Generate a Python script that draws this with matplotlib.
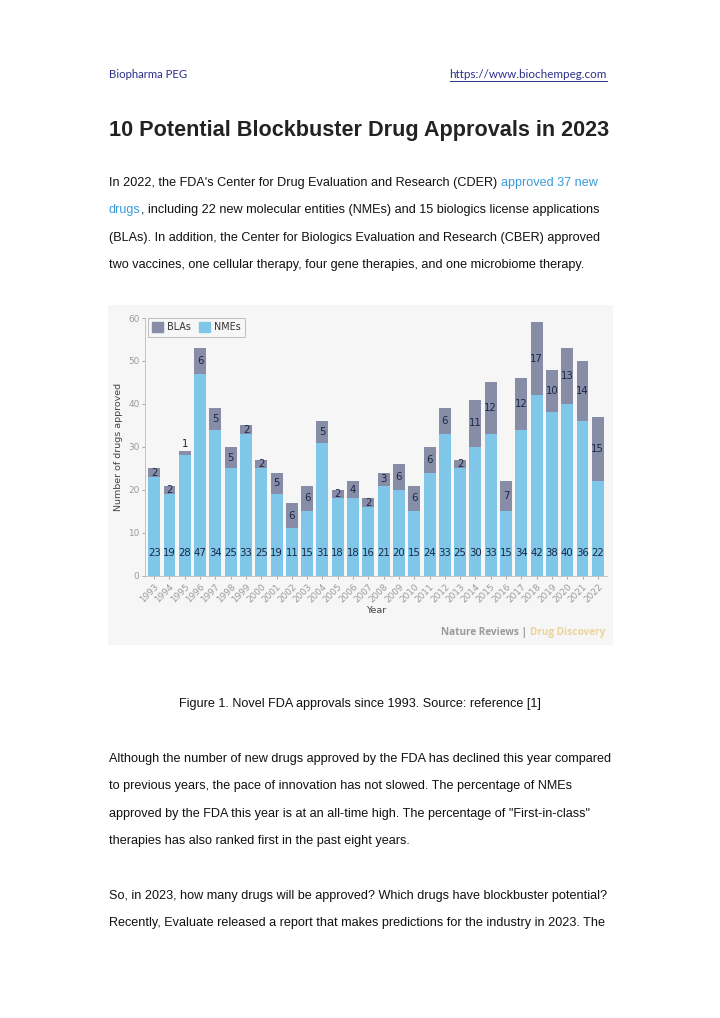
import matplotlib
matplotlib.use("Agg")
import matplotlib.pyplot as plt
from matplotlib.patches import Rectangle, Patch
import numpy as np

# ---- chart data (Nature Reviews Drug Discovery, novel FDA approvals) ----
years = ["1993", "1994", "1995", "1996", "1997", "1998", "1999", "2000", "2001", "2002",
         "2003", "2004", "2005", "2006", "2007", "2008", "2009", "2010", "2011", "2012",
         "2013", "2014", "2015", "2016", "2017", "2018", "2019", "2020", "2021", "2022"]
nmes = [23, 19, 28, 47, 34, 25, 33, 25, 19, 11, 15, 31, 18, 18, 16,
        21, 20, 15, 24, 33, 25, 30, 33, 15, 34, 42, 38, 40, 36, 22]
blas = [2, 2, 1, 6, 5, 5, 2, 2, 5, 6, 6, 5, 2, 4, 2,
        3, 6, 6, 6, 6, 2, 11, 12, 7, 12, 17, 10, 13, 14, 15]
y_ticks = [0, 10, 20, 30, 40, 50, 60]

# ---- page text ----
header_left = "Biopharma PEG"
header_right = "https://www.biochempeg.com"
title = "10 Potential Blockbuster Drug Approvals in 2023"
para1 = [
    [("In 2022, the FDA's Center for Drug Evaluation and Research (CDER) ", "k"), ("approved 37 new", "link")],
    [("drugs", "link"), (", including 22 new molecular entities (NMEs) and 15 biologics license applications", "k")],
    [("(BLAs). In addition, the Center for Biologics Evaluation and Research (CBER) approved", "k")],
    [("two vaccines, one cellular therapy, four gene therapies, and one microbiome therapy.", "k")],
]
caption = "Figure 1. Novel FDA approvals since 1993. Source: reference [1]"
para2 = [
    "Although the number of new drugs approved by the FDA has declined this year compared",
    "to previous years, the pace of innovation has not slowed. The percentage of NMEs",
    "approved by the FDA this year is at an all-time high. The percentage of \"First-in-class\"",
    "therapies has also ranked first in the past eight years.",
]
para3 = [
    "So, in 2023, how many drugs will be approved? Which drugs have blockbuster potential?",
    "Recently, Evaluate released a report that makes predictions for the industry in 2023. The",
]

W, H = 720, 1018
TXT = "#111111"
LINK = "#3a9ad9"
NME_C = "#7fc6e8"
BLA_C = "#878ca7"
LBL_C = "#1a2844"

fig = plt.figure(figsize=(W / 100, H / 100), dpi=100)
fig.patch.set_facecolor("white")
renderer = fig.canvas.get_renderer()


def fx(px):
    return px / W


def fy(py):
    return 1 - py / H


def draw_runs(runs, x, y, ha="left", **kw):
    texts = [fig.text(0, fy(y), s, color=c, va="baseline", **kw) for s, c in runs]
    widths = [t.get_window_extent(renderer).width for t in texts]
    total = sum(widths)
    x0 = {"left": x, "right": x - total, "center": x - total / 2}[ha]
    for t, w in zip(texts, widths):
        t.set_x(fx(x0))
        x0 += w
    return texts


body = dict(family="Liberation Sans", fontsize=9.1)

# header
fig.text(fx(109), fy(78), header_left, color="#2d2f8a", family="Lato", fontsize=8.2, va="baseline")
url = fig.text(fx(607), fy(78), header_right, color="#2d2f8a", family="Lato", fontsize=8.4,
               va="baseline", ha="right")
bb = url.get_window_extent(renderer)
fig.add_artist(plt.Line2D([bb.x0 / W, bb.x1 / W], [fy(80.5), fy(80.5)], color="#2d2f8a", lw=0.7))

# title
fig.text(fx(109), fy(136), title, color="#222222", family="Liberation Sans", fontsize=15.6,
         fontweight="bold", va="baseline")

# paragraph 1
for i, line in enumerate(para1):
    runs = [(s, LINK if c == "link" else TXT) for s, c in line]
    draw_runs(runs, 109, 186 + i * 27.4, **body)

# chart panel
fig.add_artist(Rectangle((fx(108), fy(645)), (613 - 108) / W, (645 - 305) / H,
                         transform=fig.transFigure, fc="#f6f6f6", ec="none", zorder=0))

ax = fig.add_axes([fx(145), fy(575.7), 462 / W, 257.7 / H])
ax.set_facecolor("none")
x = np.arange(len(years))
ax.bar(x, nmes, width=0.78, color=NME_C, edgecolor="none", zorder=2)
ax.bar(x, blas, width=0.78, bottom=nmes, color=BLA_C, edgecolor="none", zorder=2)

for i, (n, b) in enumerate(zip(nmes, blas)):
    ax.text(i, 5.3, str(n), ha="center", va="center", fontsize=7.3, color=LBL_C)
    if b >= 2:
        ax.text(i, n + b / 2, str(b), ha="center", va="center", fontsize=7.3, color=LBL_C)
    else:
        ax.text(i, n + b + 0.4, str(b), ha="center", va="bottom", fontsize=7.3, color="#222222")

ax.set_xlim(-0.6, len(years) - 0.4)
ax.set_ylim(0, 60)
ax.set_yticks(y_ticks)
ax.set_xticks(x)
ax.set_xticklabels(years, rotation=45, ha="right", va="top", rotation_mode="anchor")
ax.tick_params(axis="both", labelsize=6.4, colors="#9a9a9a", length=2.5, width=0.6, pad=2)
ax.tick_params(axis="y", pad=1.5)
for s in ["top", "right"]:
    ax.spines[s].set_visible(False)
for s in ["left", "bottom"]:
    ax.spines[s].set_color("#c4c4c4")
    ax.spines[s].set_linewidth(0.7)
ax.set_ylabel("Number of drugs approved", fontsize=6.8, color="#444444", labelpad=4)
ax.set_xlabel("Year", fontsize=6.8, color="#444444", labelpad=1.5)

handles = [Patch(color=BLA_C, label="BLAs"), Patch(color=NME_C, label="NMEs")]
leg = ax.legend(handles=handles, loc="upper left", bbox_to_anchor=(0.006, 1.0), ncol=2,
                fontsize=6.9, frameon=True, fancybox=False, borderaxespad=0,
                handlelength=1.1, handleheight=1.2, handletextpad=0.5, columnspacing=0.8,
                borderpad=0.45)
leg.get_frame().set_edgecolor("#b0b0b0")
leg.get_frame().set_linewidth(0.7)
leg.get_frame().set_facecolor("#f6f6f6")
for t in leg.get_texts():
    t.set_color("#333333")

draw_runs([("Nature Reviews | ", "#9a9a9a"), ("Drug Discovery", "#ecd39a")], 605, 635,
          ha="right", family="Open Sans", fontsize=7.2, fontweight="bold")

# caption
fig.text(fx(360), fy(707), caption, color=TXT, ha="center", va="baseline", **body)

# paragraph 2 and 3
for i, line in enumerate(para2):
    fig.text(fx(109), fy(762 + i * 27.3), line, color=TXT, va="baseline", **body)
for i, line in enumerate(para3):
    fig.text(fx(109), fy(898.5 + i * 27.3), line, color=TXT, va="baseline", **body)

fig.savefig("out.png", dpi=100)
